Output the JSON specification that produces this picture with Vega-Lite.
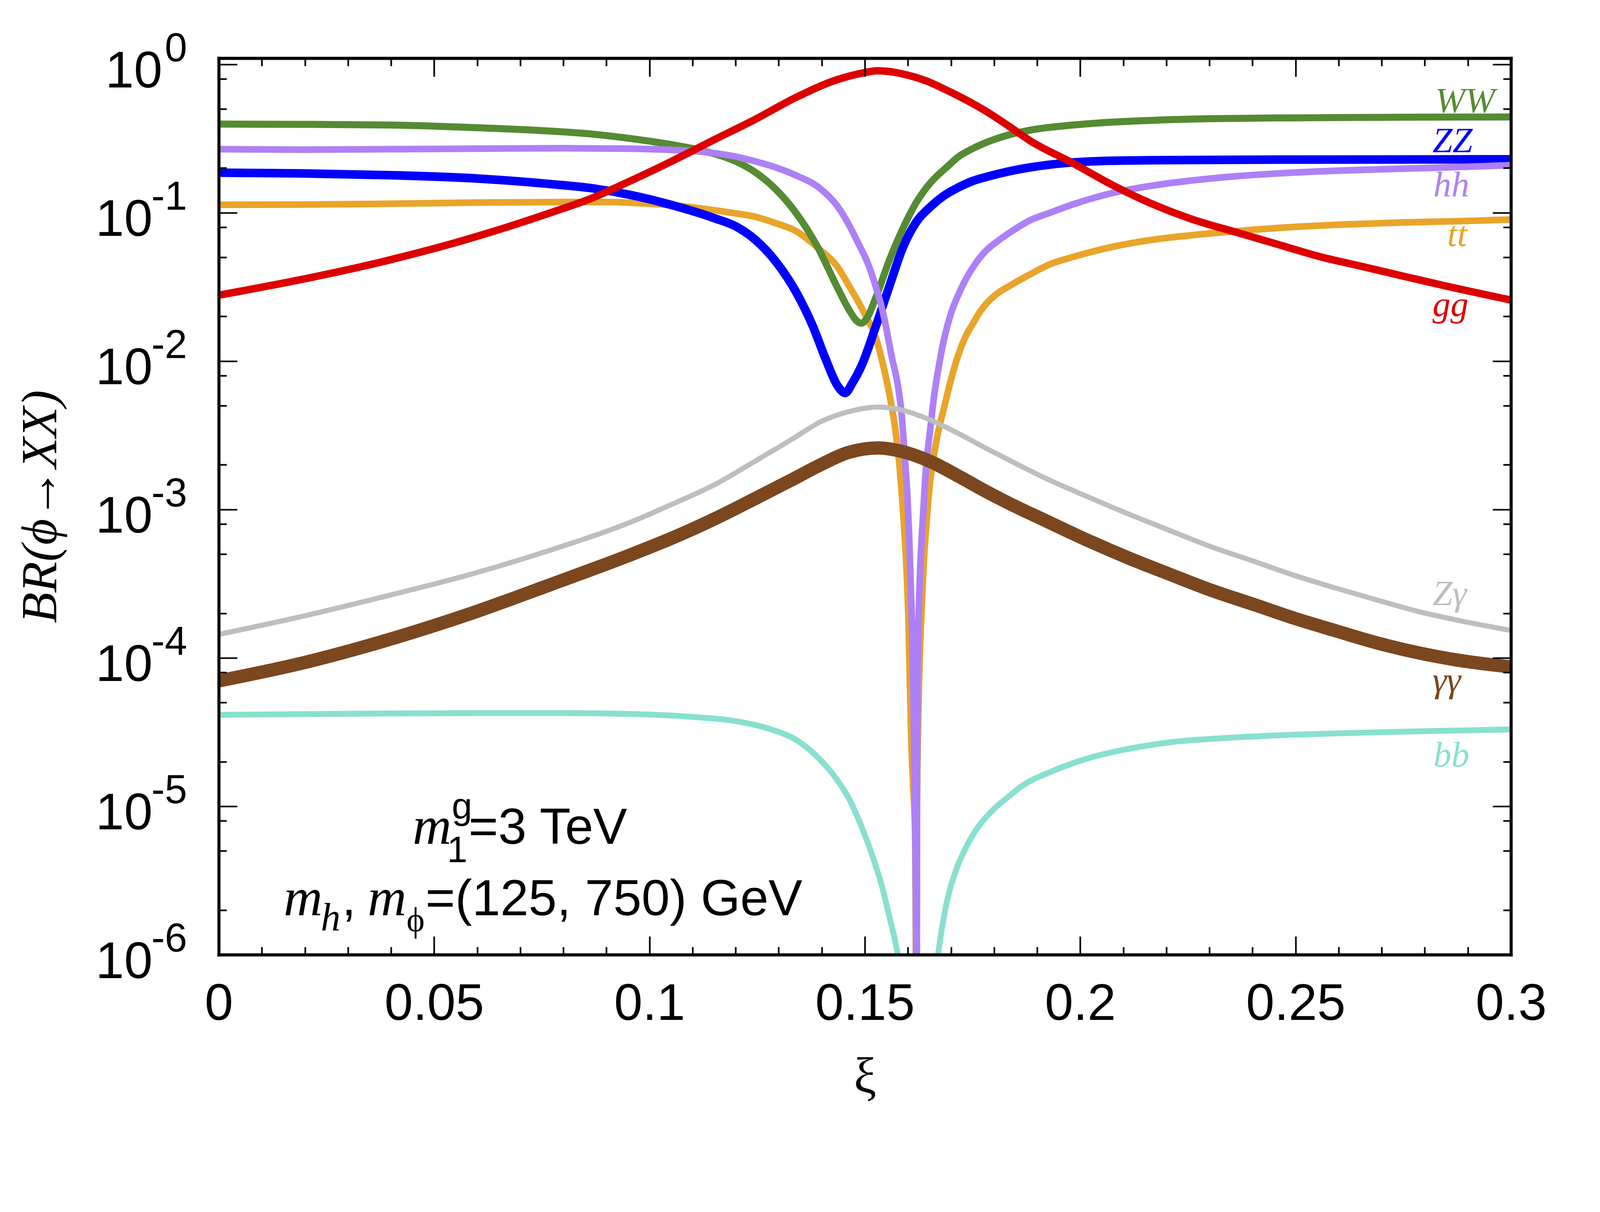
{
  "$schema": "https://vega.github.io/schema/vega-lite/v6.json",
  "width": 3308,
  "height": 2296,
  "autosize": {"type": "none"},
  "padding": {"left": 560, "top": 149, "right": 232, "bottom": 418},
  "background": "white",
  "config": {"view": {"stroke": null}},
  "datasets": {
    "curves": [
      {"ch":"bb","x":0,"y":4.13e-5},{"ch":"bb","x":0.02,"y":4.18e-5},{"ch":"bb","x":0.04,"y":4.22e-5},{"ch":"bb","x":0.06,"y":4.25e-5},{"ch":"bb","x":0.08,"y":4.25e-5},{"ch":"bb","x":0.1,"y":4.15e-5},{"ch":"bb","x":0.11,"y":4.0e-5},{"ch":"bb","x":0.12,"y":3.75e-5},{"ch":"bb","x":0.1275,"y":3.35e-5},{"ch":"bb","x":0.1345,"y":2.75e-5},{"ch":"bb","x":0.139,"y":2.15e-5},{"ch":"bb","x":0.1429,"y":1.6e-5},{"ch":"bb","x":0.1465,"y":1.1e-5},{"ch":"bb","x":0.1493,"y":7.2e-6},{"ch":"bb","x":0.1518,"y":4.6e-6},{"ch":"bb","x":0.1541,"y":2.8e-6},{"ch":"bb","x":0.1557,"y":1.8e-6},{"ch":"bb","x":0.157,"y":1.25e-6},{"ch":"bb","x":0.1582,"y":8e-7},{"ch":"bb","x":0.1594,"y":4e-7},{"ch":"bb","x":0.1655,"y":4e-7},{"ch":"bb","x":0.1668,"y":9e-7},{"ch":"bb","x":0.1688,"y":2.1e-6},{"ch":"bb","x":0.171,"y":3.6e-6},{"ch":"bb","x":0.1735,"y":5.3e-6},{"ch":"bb","x":0.1765,"y":7.4e-6},{"ch":"bb","x":0.18,"y":9.6e-6},{"ch":"bb","x":0.1835,"y":1.17e-5},{"ch":"bb","x":0.1863,"y":1.36e-5},{"ch":"bb","x":0.193,"y":1.7e-5},{"ch":"bb","x":0.2017,"y":2.1e-5},{"ch":"bb","x":0.21,"y":2.4e-5},{"ch":"bb","x":0.2209,"y":2.7e-5},{"ch":"bb","x":0.235,"y":2.9e-5},{"ch":"bb","x":0.25,"y":3.04e-5},{"ch":"bb","x":0.265,"y":3.13e-5},{"ch":"bb","x":0.2785,"y":3.2e-5},{"ch":"bb","x":0.29,"y":3.25e-5},{"ch":"bb","x":0.3,"y":3.3e-5},
      {"ch":"tt","x":0,"y":0.113},{"ch":"tt","x":0.02,"y":0.1135},{"ch":"tt","x":0.04,"y":0.115},{"ch":"tt","x":0.06,"y":0.117},{"ch":"tt","x":0.08,"y":0.118},{"ch":"tt","x":0.09,"y":0.118},{"ch":"tt","x":0.1,"y":0.115},{"ch":"tt","x":0.107,"y":0.111},{"ch":"tt","x":0.115,"y":0.104},{"ch":"tt","x":0.12,"y":0.099},{"ch":"tt","x":0.1245,"y":0.094},{"ch":"tt","x":0.1293,"y":0.085},{"ch":"tt","x":0.1341,"y":0.075},{"ch":"tt","x":0.1397,"y":0.056},{"ch":"tt","x":0.1437,"y":0.043},{"ch":"tt","x":0.1461,"y":0.033},{"ch":"tt","x":0.1499,"y":0.021},{"ch":"tt","x":0.1525,"y":0.0145},{"ch":"tt","x":0.1541,"y":0.0098},{"ch":"tt","x":0.1557,"y":0.006},{"ch":"tt","x":0.1573,"y":0.0031},{"ch":"tt","x":0.1581,"y":0.0019},{"ch":"tt","x":0.1587,"y":0.00115},{"ch":"tt","x":0.1592,"y":0.0007},{"ch":"tt","x":0.1597,"y":0.00038},{"ch":"tt","x":0.1601,"y":0.00019},{"ch":"tt","x":0.1605,"y":6e-5},{"ch":"tt","x":0.1608,"y":2.7e-5},{"ch":"tt","x":0.1612,"y":1.4e-5},{"ch":"tt","x":0.1617,"y":6e-6},{"ch":"tt","x":0.1618,"y":2e-6},{"ch":"tt","x":0.16195,"y":4e-7},{"ch":"tt","x":0.162,"y":4e-7},{"ch":"tt","x":0.1621,"y":8e-6},{"ch":"tt","x":0.1623,"y":2.7e-5},{"ch":"tt","x":0.1627,"y":9e-5},{"ch":"tt","x":0.1632,"y":0.00022},{"ch":"tt","x":0.1637,"y":0.00045},{"ch":"tt","x":0.1643,"y":0.0008},{"ch":"tt","x":0.165,"y":0.0014},{"ch":"tt","x":0.1659,"y":0.0022},{"ch":"tt","x":0.1669,"y":0.0032},{"ch":"tt","x":0.1685,"y":0.005},{"ch":"tt","x":0.17,"y":0.0075},{"ch":"tt","x":0.1717,"y":0.011},{"ch":"tt","x":0.1733,"y":0.0145},{"ch":"tt","x":0.1749,"y":0.0175},{"ch":"tt","x":0.1765,"y":0.021},{"ch":"tt","x":0.178,"y":0.024},{"ch":"tt","x":0.1807,"y":0.0285},{"ch":"tt","x":0.1835,"y":0.032},{"ch":"tt","x":0.1884,"y":0.0385},{"ch":"tt","x":0.193,"y":0.045},{"ch":"tt","x":0.198,"y":0.05},{"ch":"tt","x":0.2076,"y":0.059},{"ch":"tt","x":0.2172,"y":0.066},{"ch":"tt","x":0.2268,"y":0.071},{"ch":"tt","x":0.236,"y":0.075},{"ch":"tt","x":0.246,"y":0.079},{"ch":"tt","x":0.26,"y":0.083},{"ch":"tt","x":0.2748,"y":0.086},{"ch":"tt","x":0.29,"y":0.088},{"ch":"tt","x":0.3,"y":0.09},
      {"ch":"ZZ","x":0,"y":0.186},{"ch":"ZZ","x":0.02,"y":0.184},{"ch":"ZZ","x":0.04,"y":0.179},{"ch":"ZZ","x":0.06,"y":0.17},{"ch":"ZZ","x":0.077,"y":0.156},{"ch":"ZZ","x":0.086,"y":0.147},{"ch":"ZZ","x":0.096,"y":0.131},{"ch":"ZZ","x":0.105,"y":0.113},{"ch":"ZZ","x":0.115,"y":0.092},{"ch":"ZZ","x":0.12,"y":0.081},{"ch":"ZZ","x":0.1245,"y":0.066},{"ch":"ZZ","x":0.1293,"y":0.047},{"ch":"ZZ","x":0.1341,"y":0.029},{"ch":"ZZ","x":0.138,"y":0.017},{"ch":"ZZ","x":0.1408,"y":0.0105},{"ch":"ZZ","x":0.1437,"y":0.0068},{"ch":"ZZ","x":0.1454,"y":0.0061},{"ch":"ZZ","x":0.1472,"y":0.0072},{"ch":"ZZ","x":0.1493,"y":0.0094},{"ch":"ZZ","x":0.1525,"y":0.017},{"ch":"ZZ","x":0.1557,"y":0.032},{"ch":"ZZ","x":0.1589,"y":0.059},{"ch":"ZZ","x":0.162,"y":0.087},{"ch":"ZZ","x":0.1653,"y":0.11},{"ch":"ZZ","x":0.1685,"y":0.131},{"ch":"ZZ","x":0.1717,"y":0.148},{"ch":"ZZ","x":0.1749,"y":0.163},{"ch":"ZZ","x":0.1788,"y":0.176},{"ch":"ZZ","x":0.1835,"y":0.19},{"ch":"ZZ","x":0.1884,"y":0.202},{"ch":"ZZ","x":0.198,"y":0.218},{"ch":"ZZ","x":0.207,"y":0.224},{"ch":"ZZ","x":0.2172,"y":0.226},{"ch":"ZZ","x":0.246,"y":0.228},{"ch":"ZZ","x":0.3,"y":0.229},
      {"ch":"WW","x":0,"y":0.396},{"ch":"WW","x":0.02,"y":0.394},{"ch":"WW","x":0.04,"y":0.39},{"ch":"WW","x":0.06,"y":0.374},{"ch":"WW","x":0.077,"y":0.355},{"ch":"WW","x":0.086,"y":0.34},{"ch":"WW","x":0.096,"y":0.315},{"ch":"WW","x":0.105,"y":0.288},{"ch":"WW","x":0.112,"y":0.263},{"ch":"WW","x":0.117,"y":0.24},{"ch":"WW","x":0.12,"y":0.222},{"ch":"WW","x":0.1245,"y":0.188},{"ch":"WW","x":0.1293,"y":0.144},{"ch":"WW","x":0.1341,"y":0.099},{"ch":"WW","x":0.139,"y":0.059},{"ch":"WW","x":0.1437,"y":0.031},{"ch":"WW","x":0.1466,"y":0.0215},{"ch":"WW","x":0.148,"y":0.0188},{"ch":"WW","x":0.1492,"y":0.018},{"ch":"WW","x":0.1505,"y":0.0195},{"ch":"WW","x":0.1525,"y":0.0266},{"ch":"WW","x":0.1557,"y":0.048},{"ch":"WW","x":0.1589,"y":0.079},{"ch":"WW","x":0.162,"y":0.118},{"ch":"WW","x":0.1653,"y":0.16},{"ch":"WW","x":0.1692,"y":0.205},{"ch":"WW","x":0.1717,"y":0.238},{"ch":"WW","x":0.175,"y":0.27},{"ch":"WW","x":0.178,"y":0.296},{"ch":"WW","x":0.1835,"y":0.335},{"ch":"WW","x":0.1884,"y":0.36},{"ch":"WW","x":0.198,"y":0.389},{"ch":"WW","x":0.207,"y":0.407},{"ch":"WW","x":0.2172,"y":0.42},{"ch":"WW","x":0.23,"y":0.43},{"ch":"WW","x":0.246,"y":0.435},{"ch":"WW","x":0.26,"y":0.438},{"ch":"WW","x":0.2748,"y":0.44},{"ch":"WW","x":0.29,"y":0.441},{"ch":"WW","x":0.3,"y":0.442},
      {"ch":"hh","x":0,"y":0.268},{"ch":"hh","x":0.02,"y":0.266},{"ch":"hh","x":0.04,"y":0.268},{"ch":"hh","x":0.06,"y":0.27},{"ch":"hh","x":0.08,"y":0.272},{"ch":"hh","x":0.095,"y":0.27},{"ch":"hh","x":0.105,"y":0.265},{"ch":"hh","x":0.112,"y":0.258},{"ch":"hh","x":0.12,"y":0.239},{"ch":"hh","x":0.1245,"y":0.222},{"ch":"hh","x":0.1293,"y":0.202},{"ch":"hh","x":0.1341,"y":0.178},{"ch":"hh","x":0.1397,"y":0.145},{"ch":"hh","x":0.1437,"y":0.11},{"ch":"hh","x":0.1461,"y":0.085},{"ch":"hh","x":0.1485,"y":0.062},{"ch":"hh","x":0.1509,"y":0.044},{"ch":"hh","x":0.1525,"y":0.032},{"ch":"hh","x":0.1541,"y":0.022},{"ch":"hh","x":0.1563,"y":0.0105},{"ch":"hh","x":0.1578,"y":0.0065},{"ch":"hh","x":0.1586,"y":0.0042},{"ch":"hh","x":0.1593,"y":0.0022},{"ch":"hh","x":0.1599,"y":0.0012},{"ch":"hh","x":0.1603,"y":0.00065},{"ch":"hh","x":0.1606,"y":0.00035},{"ch":"hh","x":0.1609,"y":0.00019},{"ch":"hh","x":0.1612,"y":8e-5},{"ch":"hh","x":0.1614,"y":3.4e-5},{"ch":"hh","x":0.1616,"y":1.1e-5},{"ch":"hh","x":0.1618,"y":3.5e-6},{"ch":"hh","x":0.1619,"y":1.4e-6},{"ch":"hh","x":0.16198,"y":4e-7},{"ch":"hh","x":0.16205,"y":4e-7},{"ch":"hh","x":0.1621,"y":1.2e-5},{"ch":"hh","x":0.1622,"y":6e-5},{"ch":"hh","x":0.1625,"y":0.00019},{"ch":"hh","x":0.1628,"y":0.00037},{"ch":"hh","x":0.1632,"y":0.00065},{"ch":"hh","x":0.1636,"y":0.001},{"ch":"hh","x":0.164,"y":0.0016},{"ch":"hh","x":0.1646,"y":0.0025},{"ch":"hh","x":0.1652,"y":0.0035},{"ch":"hh","x":0.166,"y":0.0056},{"ch":"hh","x":0.1669,"y":0.0083},{"ch":"hh","x":0.1685,"y":0.0145},{"ch":"hh","x":0.17,"y":0.021},{"ch":"hh","x":0.1717,"y":0.028},{"ch":"hh","x":0.1733,"y":0.035},{"ch":"hh","x":0.1749,"y":0.042},{"ch":"hh","x":0.178,"y":0.055},{"ch":"hh","x":0.1807,"y":0.064},{"ch":"hh","x":0.1835,"y":0.073},{"ch":"hh","x":0.1884,"y":0.089},{"ch":"hh","x":0.193,"y":0.1},{"ch":"hh","x":0.198,"y":0.113},{"ch":"hh","x":0.2076,"y":0.136},{"ch":"hh","x":0.2172,"y":0.153},{"ch":"hh","x":0.2268,"y":0.166},{"ch":"hh","x":0.236,"y":0.176},{"ch":"hh","x":0.246,"y":0.184},{"ch":"hh","x":0.26,"y":0.192},{"ch":"hh","x":0.2748,"y":0.198},{"ch":"hh","x":0.29,"y":0.204},{"ch":"hh","x":0.3,"y":0.209},
      {"ch":"gg","x":0,"y":0.0278},{"ch":"gg","x":0.0192,"y":0.0355},{"ch":"gg","x":0.0383,"y":0.047},{"ch":"gg","x":0.0575,"y":0.066},{"ch":"gg","x":0.0766,"y":0.099},{"ch":"gg","x":0.0862,"y":0.124},{"ch":"gg","x":0.0958,"y":0.165},{"ch":"gg","x":0.1054,"y":0.224},{"ch":"gg","x":0.115,"y":0.31},{"ch":"gg","x":0.1245,"y":0.425},{"ch":"gg","x":0.1341,"y":0.6},{"ch":"gg","x":0.1437,"y":0.79},{"ch":"gg","x":0.15,"y":0.88},{"ch":"gg","x":0.1528,"y":0.905},{"ch":"gg","x":0.1562,"y":0.89},{"ch":"gg","x":0.1596,"y":0.85},{"ch":"gg","x":0.1644,"y":0.77},{"ch":"gg","x":0.1692,"y":0.665},{"ch":"gg","x":0.174,"y":0.565},{"ch":"gg","x":0.1788,"y":0.47},{"ch":"gg","x":0.1836,"y":0.38},{"ch":"gg","x":0.1884,"y":0.305},{"ch":"gg","x":0.198,"y":0.218},{"ch":"gg","x":0.2076,"y":0.153},{"ch":"gg","x":0.2172,"y":0.113},{"ch":"gg","x":0.2268,"y":0.0887},{"ch":"gg","x":0.2364,"y":0.0736},{"ch":"gg","x":0.246,"y":0.061},{"ch":"gg","x":0.2556,"y":0.0506},{"ch":"gg","x":0.2652,"y":0.0436},{"ch":"gg","x":0.2748,"y":0.0375},{"ch":"gg","x":0.2844,"y":0.0323},{"ch":"gg","x":0.3,"y":0.0258},
      {"ch":"Zγ","x":0,"y":1.44e-4},{"ch":"Zγ","x":0.0192,"y":1.9e-4},{"ch":"Zγ","x":0.0384,"y":2.59e-4},{"ch":"Zγ","x":0.0576,"y":3.6e-4},{"ch":"Zγ","x":0.0768,"y":5.3e-4},{"ch":"Zγ","x":0.096,"y":8.3e-4},{"ch":"Zγ","x":0.1057,"y":1.1e-3},{"ch":"Zγ","x":0.1153,"y":1.48e-3},{"ch":"Zγ","x":0.1249,"y":2.15e-3},{"ch":"Zγ","x":0.1333,"y":3.0e-3},{"ch":"Zγ","x":0.1397,"y":3.9e-3},{"ch":"Zγ","x":0.1461,"y":4.55e-3},{"ch":"Zγ","x":0.1531,"y":4.9e-3},{"ch":"Zγ","x":0.1589,"y":4.65e-3},{"ch":"Zγ","x":0.1653,"y":4.0e-3},{"ch":"Zγ","x":0.1717,"y":3.25e-3},{"ch":"Zγ","x":0.178,"y":2.6e-3},{"ch":"Zγ","x":0.1835,"y":2.15e-3},{"ch":"Zγ","x":0.192,"y":1.62e-3},{"ch":"Zγ","x":0.2017,"y":1.22e-3},{"ch":"Zγ","x":0.2113,"y":9.3e-4},{"ch":"Zγ","x":0.2209,"y":7.2e-4},{"ch":"Zγ","x":0.2305,"y":5.6e-4},{"ch":"Zγ","x":0.2401,"y":4.5e-4},{"ch":"Zγ","x":0.2497,"y":3.6e-4},{"ch":"Zγ","x":0.2594,"y":2.95e-4},{"ch":"Zγ","x":0.269,"y":2.45e-4},{"ch":"Zγ","x":0.2786,"y":2.05e-4},{"ch":"Zγ","x":0.2882,"y":1.78e-4},{"ch":"Zγ","x":0.3,"y":1.53e-4},
      {"ch":"γγ","x":0,"y":7.0e-5},{"ch":"γγ","x":0.0192,"y":9.2e-5},{"ch":"γγ","x":0.0384,"y":1.3e-4},{"ch":"γγ","x":0.0576,"y":1.95e-4},{"ch":"γγ","x":0.0768,"y":3.1e-4},{"ch":"γγ","x":0.096,"y":5.0e-4},{"ch":"γγ","x":0.1057,"y":6.5e-4},{"ch":"γγ","x":0.1153,"y":8.7e-4},{"ch":"γγ","x":0.1249,"y":1.2e-3},{"ch":"γγ","x":0.1333,"y":1.6e-3},{"ch":"γγ","x":0.1397,"y":2.0e-3},{"ch":"γγ","x":0.1461,"y":2.42e-3},{"ch":"γγ","x":0.1531,"y":2.6e-3},{"ch":"γγ","x":0.1589,"y":2.45e-3},{"ch":"γγ","x":0.1653,"y":2.1e-3},{"ch":"γγ","x":0.1717,"y":1.68e-3},{"ch":"γγ","x":0.178,"y":1.33e-3},{"ch":"γγ","x":0.1835,"y":1.1e-3},{"ch":"γγ","x":0.192,"y":8.4e-4},{"ch":"γγ","x":0.2017,"y":6.2e-4},{"ch":"γγ","x":0.2113,"y":4.7e-4},{"ch":"γγ","x":0.2209,"y":3.65e-4},{"ch":"γγ","x":0.2305,"y":2.85e-4},{"ch":"γγ","x":0.2401,"y":2.3e-4},{"ch":"γγ","x":0.2497,"y":1.85e-4},{"ch":"γγ","x":0.2594,"y":1.52e-4},{"ch":"γγ","x":0.269,"y":1.26e-4},{"ch":"γγ","x":0.2786,"y":1.08e-4},{"ch":"γγ","x":0.2882,"y":9.6e-5},{"ch":"γγ","x":0.3,"y":8.7e-5}
    ],
    "names": [
      {"ch":"WW","x":0.2824,"y":0.473},
      {"ch":"ZZ","x":0.2818,"y":0.256},
      {"ch":"hh","x":0.282,"y":0.129},
      {"ch":"tt","x":0.2852,"y":0.0598},
      {"ch":"gg","x":0.2818,"y":0.02},
      {"ch":"Zγ","x":0.2818,"y":2.27e-4},
      {"ch":"γγ","x":0.2818,"y":5.9e-5},
      {"ch":"bb","x":0.282,"y":1.86e-5}
    ],
    "exps": [
      {"v":1,"e":"0"},{"v":0.1,"e":"-1"},{"v":0.01,"e":"-2"},{"v":0.001,"e":"-3"},
      {"v":0.0001,"e":"-4"},{"v":0.00001,"e":"-5"},{"v":0.000001,"e":"-6"}
    ],
    "annoSans": [
      {"x":0.058,"y":5.6e-6,"t":"=3 TeV"},
      {"x":0.0286,"y":1.84e-6,"t":","},
      {"x":0.048,"y":1.84e-6,"t":"=(125, 750) GeV"}
    ],
    "annoItal": [
      {"x":0.045,"y":5.6e-6,"t":"m"},
      {"x":0.01506,"y":1.84e-6,"t":"m"},
      {"x":0.03455,"y":1.84e-6,"t":"m"}
    ],
    "annoSmallSans": [
      {"x":0.0541,"y":8.3e-6,"t":"g"},
      {"x":0.053,"y":4.2e-6,"t":"1"}
    ],
    "annoSmallItal": [
      {"x":0.0237,"y":1.46e-6,"t":"h"}
    ],
    "annoPhi": [
      {"x":0.0436,"y":1.44e-6,"t":"ϕ"}
    ]
  },
  "layer": [
    {
      "data": {"name": "curves"},
      "transform": [{"filter": "datum.ch == 'bb'"}],
      "mark": {"type": "line", "strokeWidth": 15, "interpolate": "monotone", "strokeCap": "round", "strokeJoin": "round", "clip": true},
      "encoding": {
        "x": {
          "field": "x", "type": "quantitative",
          "scale": {"domain": [0, 0.3], "nice": false, "zero": false},
          "axis": {
            "orient": "bottom",
            "values": [0,0.01,0.02,0.03,0.04,0.05,0.06,0.07,0.08,0.09,0.1,0.11,0.12,0.13,0.14,0.15,0.16,0.17,0.18,0.19,0.2,0.21,0.22,0.23,0.24,0.25,0.26,0.27,0.28,0.29,0.3],
            "tickSize": {"condition": {"test": "abs(datum.value*20-round(datum.value*20))<1e-6", "value": -47}, "value": -20},
            "tickWidth": 4.2, "tickColor": "black",
            "domain": true, "domainWidth": 7.8, "domainColor": "black", "domainCap": "square",
            "labelExpr": "abs(datum.value*20-round(datum.value*20))<1e-6 ? format(datum.value, '~g') : ''",
            "labelFont": "Liberation Sans", "labelFontSize": 131, "labelColor": "black",
            "labelPadding": 110, "labelBaseline": "top", "labelAlign": "center", "labelLimit": 2000,
            "labelOverlap": false, "labelBound": false, "labelFlush": false,
            "title": "ξ", "titleFont": "Liberation Serif", "titleFontSize": 129, "titleFontWeight": "normal",
            "titleColor": "black", "titlePadding": 50,
            "grid": false, "zindex": 1
          }
        },
        "y": {
          "field": "y", "type": "quantitative",
          "scale": {"type": "log", "domain": [0.000001, 1.1], "nice": false},
          "axis": {
            "orient": "left",
            "values": [0.000001,0.000002,0.000005,0.000008,0.00001,0.00002,0.00005,0.00008,0.0001,0.0002,0.0005,0.0008,0.001,0.002,0.005,0.008,0.01,0.02,0.05,0.08,0.1,0.2,0.5,0.8,1],
            "tickSize": {"condition": {"test": "abs(log(datum.value)/LN10-round(log(datum.value)/LN10))<1e-6", "value": -47}, "value": -20},
            "tickWidth": 4.2, "tickColor": "black",
            "domain": true, "domainWidth": 7.8, "domainColor": "black", "domainCap": "square",
            "labelExpr": "abs(log(datum.value)/LN10-round(log(datum.value)/LN10))<1e-6 ? '10' : ''",
            "labelFont": "Liberation Sans", "labelFontSize": 131, "labelColor": "black",
            "labelPadding": {"condition": {"test": "datum.value == 1", "value": 192}, "value": 217},
            "labelAlign": "right", "labelBaseline": "alphabetic", "labelOffset": 59, "labelLimit": 2000,
            "labelOverlap": false, "labelBound": false, "labelFlush": false,
            "title": "BR(ϕ→XX)", "titleFont": "Liberation Serif", "titleFontStyle": "italic",
            "titleFontSize": 129, "titleFontWeight": "normal", "titleColor": "black", "titlePadding": 190,
            "grid": false, "zindex": 1
          }
        },
        "color": {
          "field": "ch", "type": "nominal", "legend": null,
          "scale": {
            "domain": ["bb","tt","ZZ","WW","hh","gg","Zγ","γγ"],
            "range": ["#88e0d0","#e9a42a","#0000ff","#558b32","#ae80f7","#dc0000","#bebebe","#7b471e"]
          }
        }
      }
    },
    {
      "data": {"name": "curves"},
      "transform": [{"filter": "datum.ch == 'tt'"}],
      "mark": {"type": "line", "strokeWidth": 17, "interpolate": "monotone", "strokeCap": "round", "strokeJoin": "round", "clip": true},
      "encoding": {
        "x": {"field": "x", "type": "quantitative", "axis": null},
        "y": {"field": "y", "type": "quantitative", "axis": null},
        "color": {"field": "ch", "type": "nominal", "legend": null}
      }
    },
    {
      "data": {"name": "curves"},
      "transform": [{"filter": "datum.ch == 'ZZ'"}],
      "mark": {"type": "line", "strokeWidth": 22, "interpolate": "monotone", "strokeCap": "round", "strokeJoin": "round", "clip": true},
      "encoding": {
        "x": {"field": "x", "type": "quantitative", "axis": null},
        "y": {"field": "y", "type": "quantitative", "axis": null},
        "color": {"field": "ch", "type": "nominal", "legend": null}
      }
    },
    {
      "data": {"name": "curves"},
      "transform": [{"filter": "datum.ch == 'WW'"}],
      "mark": {"type": "line", "strokeWidth": 18, "interpolate": "monotone", "strokeCap": "round", "strokeJoin": "round", "clip": true},
      "encoding": {
        "x": {"field": "x", "type": "quantitative", "axis": null},
        "y": {"field": "y", "type": "quantitative", "axis": null},
        "color": {"field": "ch", "type": "nominal", "legend": null}
      }
    },
    {
      "data": {"name": "curves"},
      "transform": [{"filter": "datum.ch == 'hh'"}],
      "mark": {"type": "line", "strokeWidth": 17, "interpolate": "monotone", "strokeCap": "round", "strokeJoin": "round", "clip": true},
      "encoding": {
        "x": {"field": "x", "type": "quantitative", "axis": null},
        "y": {"field": "y", "type": "quantitative", "axis": null},
        "color": {"field": "ch", "type": "nominal", "legend": null}
      }
    },
    {
      "data": {"name": "curves"},
      "transform": [{"filter": "datum.ch == 'gg'"}],
      "mark": {"type": "line", "strokeWidth": 19, "interpolate": "monotone", "strokeCap": "round", "strokeJoin": "round", "clip": true},
      "encoding": {
        "x": {"field": "x", "type": "quantitative", "axis": null},
        "y": {"field": "y", "type": "quantitative", "axis": null},
        "color": {"field": "ch", "type": "nominal", "legend": null}
      }
    },
    {
      "data": {"name": "curves"},
      "transform": [{"filter": "datum.ch == 'Zγ'"}],
      "mark": {"type": "line", "strokeWidth": 13, "interpolate": "monotone", "strokeCap": "round", "strokeJoin": "round", "clip": true},
      "encoding": {
        "x": {"field": "x", "type": "quantitative", "axis": null},
        "y": {"field": "y", "type": "quantitative", "axis": null},
        "color": {"field": "ch", "type": "nominal", "legend": null}
      }
    },
    {
      "data": {"name": "curves"},
      "transform": [{"filter": "datum.ch == 'γγ'"}],
      "mark": {"type": "line", "strokeWidth": 34, "interpolate": "monotone", "strokeCap": "round", "strokeJoin": "round", "clip": true},
      "encoding": {
        "x": {"field": "x", "type": "quantitative", "axis": null},
        "y": {"field": "y", "type": "quantitative", "axis": null},
        "color": {"field": "ch", "type": "nominal", "legend": null}
      }
    },
    {
      "data": {"name": "names"},
      "mark": {"type": "text", "font": "Liberation Serif", "fontStyle": "italic", "fontSize": 92, "align": "left", "baseline": "alphabetic"},
      "encoding": {
        "x": {
          "field": "x", "type": "quantitative",
          "axis": {
            "orient": "top",
            "values": [0,0.01,0.02,0.03,0.04,0.05,0.06,0.07,0.08,0.09,0.1,0.11,0.12,0.13,0.14,0.15,0.16,0.17,0.18,0.19,0.2,0.21,0.22,0.23,0.24,0.25,0.26,0.27,0.28,0.29,0.3],
            "tickSize": {"condition": {"test": "abs(datum.value*20-round(datum.value*20))<1e-6", "value": -47}, "value": -20},
            "tickWidth": 4.2, "tickColor": "black",
            "domain": true, "domainWidth": 7.8, "domainColor": "black", "domainCap": "square",
            "labels": false, "title": null, "grid": false, "zindex": 1
          }
        },
        "y": {
          "field": "y", "type": "quantitative",
          "axis": {
            "orient": "right",
            "values": [0.000001,0.000002,0.000005,0.000008,0.00001,0.00002,0.00005,0.00008,0.0001,0.0002,0.0005,0.0008,0.001,0.002,0.005,0.008,0.01,0.02,0.05,0.08,0.1,0.2,0.5,0.8,1],
            "tickSize": {"condition": {"test": "abs(log(datum.value)/LN10-round(log(datum.value)/LN10))<1e-6", "value": -47}, "value": -20},
            "tickWidth": 4.2, "tickColor": "black",
            "domain": true, "domainWidth": 7.8, "domainColor": "black", "domainCap": "square",
            "labels": false, "title": null, "grid": false, "zindex": 1
          }
        },
        "text": {"field": "ch"},
        "color": {"field": "ch", "type": "nominal", "legend": null}
      }
    },
    {
      "data": {"name": "exps"},
      "mark": {"type": "text", "font": "Liberation Sans", "fontSize": 103, "align": "right", "baseline": "alphabetic", "dx": -81, "dy": -8, "color": "black"},
      "encoding": {
        "x": {"datum": 0, "type": "quantitative", "axis": null},
        "y": {"field": "v", "type": "quantitative", "axis": null},
        "text": {"field": "e"}
      }
    },
    {
      "data": {"name": "annoSans"},
      "mark": {"type": "text", "font": "Liberation Sans", "fontSize": 130, "align": "left", "baseline": "alphabetic", "color": "black"},
      "encoding": {
        "x": {"field": "x", "type": "quantitative", "axis": null},
        "y": {"field": "y", "type": "quantitative", "axis": null},
        "text": {"field": "t"}
      }
    },
    {
      "data": {"name": "annoItal"},
      "mark": {"type": "text", "font": "Liberation Serif", "fontStyle": "italic", "fontSize": 138, "align": "left", "baseline": "alphabetic", "color": "black"},
      "encoding": {
        "x": {"field": "x", "type": "quantitative", "axis": null},
        "y": {"field": "y", "type": "quantitative", "axis": null},
        "text": {"field": "t"}
      }
    },
    {
      "data": {"name": "annoSmallSans"},
      "mark": {"type": "text", "font": "Liberation Sans", "fontSize": 94, "align": "left", "baseline": "alphabetic", "color": "black"},
      "encoding": {
        "x": {"field": "x", "type": "quantitative", "axis": null},
        "y": {"field": "y", "type": "quantitative", "axis": null},
        "text": {"field": "t"}
      }
    },
    {
      "data": {"name": "annoSmallItal"},
      "mark": {"type": "text", "font": "Liberation Serif", "fontStyle": "italic", "fontSize": 101, "align": "left", "baseline": "alphabetic", "color": "black"},
      "encoding": {
        "x": {"field": "x", "type": "quantitative", "axis": null},
        "y": {"field": "y", "type": "quantitative", "axis": null},
        "text": {"field": "t"}
      }
    },
    {
      "data": {"name": "annoPhi"},
      "mark": {"type": "text", "font": "Liberation Serif", "fontSize": 88, "align": "left", "baseline": "alphabetic", "color": "black"},
      "encoding": {
        "x": {"field": "x", "type": "quantitative", "axis": null},
        "y": {"field": "y", "type": "quantitative", "axis": null},
        "text": {"field": "t"}
      }
    }
  ],
  "resolve": {"axis": {"x": "independent", "y": "independent"}}
}
